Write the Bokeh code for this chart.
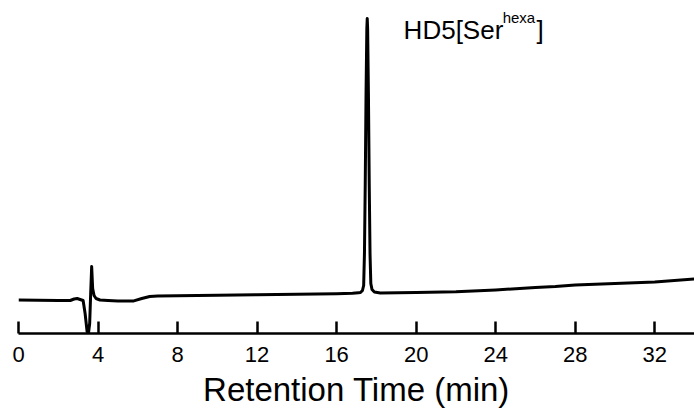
from bokeh.plotting import figure
from bokeh.models import FixedTicker, Label, Range1d
from bokeh.embed import file_html
from bokeh.resources import INLINE

# Chromatogram trace (time in min, absorbance in arbitrary units)
time_min = [0.0, 1.0, 2.0, 2.6, 2.8, 2.95, 3.1, 3.25, 3.35, 3.45, 3.52, 3.58, 3.63, 3.68,
            3.73, 3.8, 3.9, 4.1, 4.5, 5.0, 5.5, 5.8, 6.2, 6.6, 7.0, 8.0, 10.0, 12.0,
            14.0, 16.0, 16.8, 17.1, 17.2, 17.3, 17.36, 17.40, 17.44, 17.48, 17.52,
            17.54, 17.56, 17.60, 17.64, 17.68, 17.72, 17.78, 17.9, 18.2, 20.0, 22.0,
            24.0, 26.0, 27.0, 28.0, 30.0, 32.0, 34.0]
signal = [33.5, 33.3, 33.0, 33.0, 34.5, 35.0, 34.0, 33.0, 20.0, 2.0, 0.5, 10.0, 40.0, 67.0,
          45.0, 38.0, 35.0, 33.5, 33.0, 32.5, 32.5, 32.6, 35.0, 37.0, 37.5, 37.8, 38.3, 38.8,
          39.3, 39.8, 40.3, 40.8, 41.0, 43.0, 48.0, 80.0, 150.0, 240.0, 305.0,
          315.0, 305.0, 240.0, 150.0, 80.0, 50.0, 44.0, 41.5, 40.5, 41.0, 41.8,
          43.5, 46.0, 47.0, 48.5, 50.0, 51.5, 54.5]

x_ticks = [0, 4, 8, 12, 16, 20, 24, 28, 32]
peak_name = "HD5[Ser"
peak_sup = "hexa"
peak_close = "]"

FONT = "Liberation Sans"

p = figure(width=694, height=410, output_backend="svg", toolbar_location=None,
           x_range=Range1d(0, 34), y_range=Range1d(0, 333),
           y_axis_location=None,
           min_border_left=18, min_border_right=0, min_border_top=0, min_border_bottom=77)
p.outline_line_color = None
p.grid.visible = False
p.background_fill_color = "white"
p.border_fill_color = "white"

p.line(time_min, signal, line_color="black", line_width=3, line_join="round")

ax = p.xaxis[0]
ax.ticker = FixedTicker(ticks=x_ticks)
ax.major_tick_in = 12
ax.major_tick_out = 0
ax.minor_tick_line_color = None
ax.axis_line_width = 2.5
ax.axis_line_color = "black"
ax.major_tick_line_width = 2.5
ax.major_tick_line_color = "black"
ax.major_label_text_font = FONT
ax.major_label_text_font_size = "22px"
ax.major_label_text_color = "black"
ax.major_label_standoff = 13
ax.axis_label = "Retention Time (min)"
ax.axis_label_text_font = FONT
ax.axis_label_text_font_size = "33px"
ax.axis_label_text_font_style = "normal"
ax.axis_label_text_color = "black"
ax.axis_label_standoff = 6

p.add_layout(Label(x=19.37, y=304, text=peak_name, text_font=FONT, text_font_size="26px",
                   text_color="black", text_baseline="alphabetic"))
p.add_layout(Label(x=24.35, y=316, text=peak_sup, text_font=FONT, text_font_size="15px",
                   text_color="black", text_baseline="alphabetic"))
p.add_layout(Label(x=26.05, y=304, text=peak_close, text_font=FONT, text_font_size="26px",
                   text_color="black", text_baseline="alphabetic"))

open("out.html", "w").write(file_html(p, INLINE))
